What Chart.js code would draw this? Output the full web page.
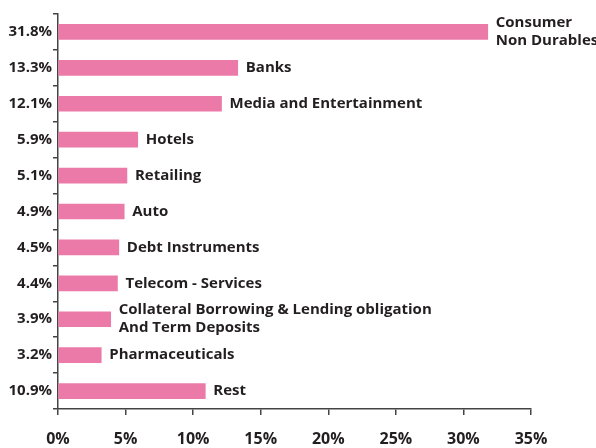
<!DOCTYPE html>
<html>
<head>
<meta charset="utf-8">
<script src="https://cdn.jsdelivr.net/npm/chart.js@4/dist/chart.umd.min.js"></script>
<style>
  html, body { margin: 0; padding: 0; background: #fff; }
  #wrap { width: 596px; height: 448px; }
</style>
</head>
<body>
<div id="wrap"><canvas id="grafico" width="596" height="448"></canvas></div>
<script>
// Datos
const sectores = [
  ["Consumer", "Non Durables"],
  "Banks",
  "Media and Entertainment",
  "Hotels",
  "Retailing",
  "Auto",
  "Debt Instruments",
  "Telecom - Services",
  ["Collateral Borrowing & Lending obligation", "And Term Deposits"],
  "Pharmaceuticals",
  "Rest",
];
const pesos = [31.8, 13.3, 12.1, 5.9, 5.1, 4.9, 4.5, 4.4, 3.9, 3.2, 10.9];
const etiquetasPct = ["31.8%", "13.3%", "12.1%", "5.9%", "5.1%", "4.9%", "4.5%", "4.4%", "3.9%", "3.2%", "10.9%"];
const ticksX = [0, 5, 10, 15, 20, 25, 30, 35];

const colorTexto = "#231f20";
const colorEje = "#444";
const fuente = "'Open Sans', 'DejaVu Sans', sans-serif";

// Nombres al final de cada barra
const nombresBarras = {
  id: "nombresBarras",
  afterDatasetsDraw(chart) {
    const ctx = chart.ctx;
    const meta = chart.getDatasetMeta(0);
    ctx.save();
    ctx.fillStyle = colorTexto;
    ctx.font = "bold 15px " + fuente;
    ctx.textBaseline = "middle";
    ctx.textAlign = "left";
    meta.data.forEach((bar, i) => {
      const lineas = Array.isArray(sectores[i]) ? sectores[i] : [sectores[i]];
      const alto = 18;
      const y0 = bar.y - ((lineas.length - 1) * alto) / 2;
      lineas.forEach((l, j) => ctx.fillText(l, bar.x + 8, y0 + j * alto));
    });
    ctx.restore();
  },
};

const ctx = document.getElementById("grafico");
const grafico = new Chart(ctx, {
  type: "bar",
  data: {
    labels: etiquetasPct,
    datasets: [
      {
        data: pesos,
        backgroundColor: "#ec7aa8",
        barThickness: 15,
      },
    ],
  },
  options: {
    indexAxis: "y",
    responsive: false,
    animation: false,
    layout: { padding: { top: 14, right: 65, left: 0, bottom: 0 } },
    plugins: { legend: { display: false }, tooltip: { enabled: false } },
    scales: {
      x: {
        min: 0,
        max: 35,
        afterBuildTicks: (axis) => {
          axis.ticks = ticksX.map((v) => ({ value: v }));
        },
        afterFit: (axis) => {
          axis.height = 39;
        },
        grid: {
          drawOnChartArea: false,
          drawTicks: true,
          tickLength: 6,
          color: colorEje,
          lineWidth: 1.5,
        },
        border: { display: true, color: colorEje, width: 1.5 },
        ticks: {
          color: colorTexto,
          font: { family: fuente, size: 16, weight: "bold" },
          padding: 15,
          maxRotation: 0,
          callback: (v) => v + "%",
        },
      },
      y: {
        offset: true,
        afterFit: (axis) => {
          axis.width = 58;
        },
        grid: {
          offset: true,
          drawOnChartArea: false,
          drawTicks: true,
          tickLength: 5,
          color: colorEje,
          lineWidth: 1.5,
        },
        border: { display: true, color: colorEje, width: 1.5 },
        ticks: {
          color: colorTexto,
          font: { family: fuente, size: 15, weight: "bold" },
          padding: 1,
        },
      },
    },
  },
  plugins: [nombresBarras],
});
</script>
</body>
</html>
